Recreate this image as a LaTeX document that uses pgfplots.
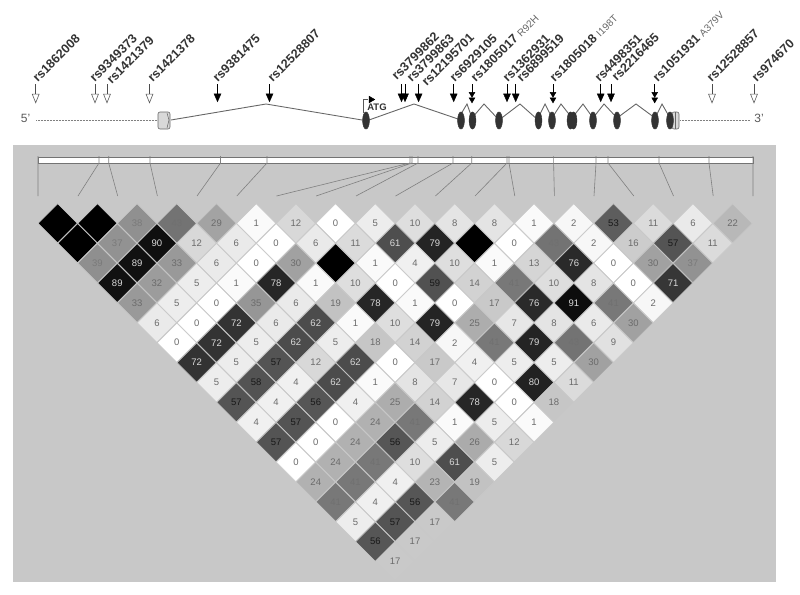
\documentclass[border=0pt]{standalone}
\usepackage{fontspec}
\setmainfont{Liberation Sans}
\usepackage{pgfplots}
\usepackage{pgfplotstable}
\pgfplotsset{compat=1.18}
\definecolor{bg}{gray}{0.785}
\definecolor{ink}{gray}{0.2}
\definecolor{lineg}{gray}{0.45}
\pgfplotstableread[row sep=\\]{
a k v\\
0 0 100\\ 1 0 100\\ 2 0 38\\ 3 0 43\\ 4 0 29\\ 5 0 1\\ 6 0 12\\ 7 0 0\\ 8 0 5\\ 9 0 10\\ 10 0 8\\ 11 0 8\\ 12 0 1\\ 13 0 2\\ 14 0 53\\ 15 0 11\\ 16 0 6\\ 17 0 22\\
0 1 100\\ 1 1 37\\ 2 1 90\\ 3 1 12\\ 4 1 6\\ 5 1 0\\ 6 1 6\\ 7 1 11\\ 8 1 61\\ 9 1 79\\ 10 1 100\\ 11 1 0\\ 12 1 43\\ 13 1 2\\ 14 1 16\\ 15 1 57\\ 16 1 11\\
0 2 39\\ 1 2 89\\ 2 2 33\\ 3 2 6\\ 4 2 0\\ 5 2 30\\ 6 2 100\\ 7 2 1\\ 8 2 4\\ 9 2 10\\ 10 2 1\\ 11 2 13\\ 12 2 76\\ 13 2 0\\ 14 2 30\\ 15 2 37\\
0 3 89\\ 1 3 32\\ 2 3 5\\ 3 3 1\\ 4 3 78\\ 5 3 1\\ 6 3 10\\ 7 3 0\\ 8 3 59\\ 9 3 14\\ 10 3 41\\ 11 3 10\\ 12 3 8\\ 13 3 0\\ 14 3 71\\
0 4 33\\ 1 4 5\\ 2 4 0\\ 3 4 35\\ 4 4 6\\ 5 4 19\\ 6 4 78\\ 7 4 1\\ 8 4 0\\ 9 4 17\\ 10 4 76\\ 11 4 91\\ 12 4 41\\ 13 4 2\\
0 5 6\\ 1 5 0\\ 2 5 72\\ 3 5 6\\ 4 5 62\\ 5 5 1\\ 6 5 10\\ 7 5 79\\ 8 5 25\\ 9 5 7\\ 10 5 8\\ 11 5 6\\ 12 5 30\\
0 6 0\\ 1 6 72\\ 2 6 5\\ 3 6 62\\ 4 6 5\\ 5 6 18\\ 6 6 14\\ 7 6 2\\ 8 6 41\\ 9 6 79\\ 10 6 43\\ 11 6 9\\
0 7 72\\ 1 7 5\\ 2 7 57\\ 3 7 12\\ 4 7 62\\ 5 7 0\\ 6 7 17\\ 7 7 4\\ 8 7 5\\ 9 7 5\\ 10 7 30\\
0 8 5\\ 1 8 58\\ 2 8 4\\ 3 8 62\\ 4 8 1\\ 5 8 8\\ 6 8 7\\ 7 8 0\\ 8 8 80\\ 9 8 11\\
0 9 57\\ 1 9 4\\ 2 9 56\\ 3 9 4\\ 4 9 25\\ 5 9 14\\ 6 9 78\\ 7 9 0\\ 8 9 18\\
0 10 4\\ 1 10 57\\ 2 10 0\\ 3 10 24\\ 4 10 41\\ 5 10 1\\ 6 10 5\\ 7 10 1\\
0 11 57\\ 1 11 0\\ 2 11 24\\ 3 11 56\\ 4 11 5\\ 5 11 26\\ 6 11 12\\
0 12 0\\ 1 12 24\\ 2 12 41\\ 3 12 10\\ 4 12 61\\ 5 12 5\\
0 13 24\\ 1 13 41\\ 2 13 4\\ 3 13 23\\ 4 13 19\\
0 14 41\\ 1 14 4\\ 2 14 56\\ 3 14 41\\
0 15 5\\ 1 15 57\\ 2 15 17\\
0 16 56\\ 1 16 17\\
0 17 17\\
}\ldtable
\pgfplotsset{cellnums/.style={only marks,mark=none,draw=none,forget plot,point meta=explicit,
  nodes near coords,
  every node near coord/.append style={anchor=center,font=\fontsize{9.5}{10}\selectfont,inner sep=0pt,text=#1}}}
\newcommand\cellx{57.7+39.7*\thisrow{a}+19.85*\thisrow{k}}
\newcommand\celly{223.3+19.9*\thisrow{k}}
\begin{document}
\begin{tikzpicture}
\useasboundingbox (0,0) rectangle (800pt,594pt);
\begin{axis}[
  at={(0,0)},anchor=south west,scale only axis,width=800pt,height=594pt,
  xmin=0,xmax=800,ymin=0,ymax=594,y dir=reverse,axis lines=none,clip=false,
  unbounded coords=jump,
  /pgf/number format/assume math mode=true,
  colormap={ld}{gray(0cm)=(1); gray(1cm)=(.98); gray(5cm)=(.93); gray(10cm)=(.87); gray(17cm)=(.79); gray(25cm)=(.68); gray(33cm)=(.6); gray(39cm)=(.56); gray(41cm)=(.47); gray(43cm)=(.45); gray(57cm)=(.33); gray(62cm)=(.3); gray(72cm)=(.2); gray(79cm)=(.14); gray(91cm)=(.05); gray(100cm)=(0)},
  point meta min=0,point meta max=100,
]
% panel
\addplot[draw=none,fill=bg,forget plot] coordinates {(13,145) (776,145) (776,582) (13,582)} --cycle;
% white strip
\addplot[draw=lineg,fill=white,line width=.6pt,forget plot] coordinates {(38,157) (753,157) (753,163) (38,163)} --cycle;
% SNP ticks on strip and connectors
\addplot[black!50,line width=.6pt,forget plot] coordinates {
(38,156)(38,163)(38,196)(nan,nan)
(99,156)(99,163)(78,196)(nan,nan)
(108.7,156)(108.7,163)(117.7,196)(nan,nan)
(150,156)(150,163)(157.4,196)(nan,nan)
(220.5,156)(220.5,163)(197,196)(nan,nan)
(267,156)(267,163)(236.8,196)(nan,nan)
(410,156)(410,163)(276.5,196)(nan,nan)
(412,156)(412,163)(316.2,196)(nan,nan)
(418,156)(418,163)(356,196)(nan,nan)
(453,156)(453,163)(395.6,196)(nan,nan)
(471.7,156)(471.7,163)(435.4,196)(nan,nan)
(507,156)(507,163)(475,196)(nan,nan)
(509,156)(509,163)(514.8,196)(nan,nan)
(553.6,156)(553.6,163)(554.4,196)(nan,nan)
(596,156)(596,163)(594,196)(nan,nan)
(608,156)(608,163)(633.8,196)(nan,nan)
(659,156)(659,163)(673.5,196)(nan,nan)
(709,156)(709,163)(713.2,196)(nan,nan)
(753,156)(753,163)(753,196)
};
% LD cells
\addplot[scatter,only marks,mark=square*,mark size=13.85pt,forget plot,
  scatter/use mapped color={draw=bg,fill=mapped color},
  mark options={rotate=45,line width=.6pt},
  point meta=explicit,
] table[x expr={\cellx},y expr={\celly},meta=v] {\ldtable};
% cell numbers, by shade of the text
\addplot[cellnums=black!58] table[x expr={\cellx},y expr={\thisrow{v}<36 ? \celly : nan},meta=v] {\ldtable};
\addplot[cellnums=black!52] table[x expr={\cellx},y expr={(\thisrow{v}>=36 && \thisrow{v}<41) ? \celly : nan},meta=v] {\ldtable};
\addplot[cellnums=black!56] table[x expr={\cellx},y expr={(\thisrow{v}>=41 && \thisrow{v}<50) ? \celly : nan},meta=v] {\ldtable};
\addplot[cellnums=black!90] table[x expr={\cellx},y expr={(\thisrow{v}>=50 && \thisrow{v}<60) ? \celly : nan},meta=v] {\ldtable};
\addplot[cellnums=black!15] table[x expr={\cellx},y expr={(\thisrow{v}>=60 && \thisrow{v}<100) ? \celly : nan},meta=v] {\ldtable};
% gene model
\addplot[black!50,line width=.5pt,densely dotted,forget plot] coordinates {(36,120.5)(158,120.5)};
\addplot[black!50,line width=.5pt,densely dotted,forget plot] coordinates {(680,120.5)(750,120.5)};
\addplot[black!60,line width=.9pt,forget plot] coordinates {
(171,120)(266,104)(362,120)(nan,nan)
(369,120)(414,104)(458,119)(nan,nan)
(461,114)(467,104)(472,118)(nan,nan)
(472,118)(484,104)(499,120)(nan,nan)
(499,120)(520,104)(538,120)(nan,nan)
(538,118)(545,104)(552,118)(nan,nan)
(552,118)(561,104)(572,118)(nan,nan)
(572,118)(583,104)(593,118)(nan,nan)
(593,118)(604,104)(617,118)(nan,nan)
(617,118)(636,104)(655,118)(nan,nan)
(655,118)(662,104)(670,118)
};
\addplot[draw=black!60,fill=black!15,line width=.6pt,rounded corners=2pt,forget plot] coordinates {(158,112)(170,112)(170,129)(158,129)} --cycle;
\addplot[draw=black!60,line width=.5pt,forget plot] coordinates {(167,113)(169,120)(167,128)};
\addplot[draw=black!60,fill=black!15,line width=.6pt,rounded corners=2pt,forget plot] coordinates {(672,112)(679,112)(679,129)(672,129)} --cycle;
\addplot[draw=black!60,line width=.5pt,forget plot] coordinates {(675,112)(675,129)};
\addplot[only marks,mark=*,mark size=8.6pt,mark options={xscale=.4,fill=ink,draw=ink},forget plot] coordinates {
(366,120.5)(461,120.5)(472.5,120.5)(499,120.5)(538.5,120.5)(552,120.5)(570.5,120.5)(573.5,120.5)(593,120.5)(617,120.5)(655,120.5)(670,120.5)};
% ATG arrow
\addplot[black!65,line width=.8pt,forget plot] coordinates {(363,113)(363,99.5)(368,99.5)};
\addplot[only marks,mark=triangle*,mark size=3.8pt,mark options={rotate=-90,fill=black,draw=black},forget plot] coordinates {(371,99.5)};
\node[font=\bfseries\fontsize{9.5}{10}\selectfont,text=ink,anchor=center] at (axis cs:377,107.5) {ATG};
\node[font=\fontsize{12}{12}\selectfont,text=black!65,anchor=center] at (axis cs:25.5,118) {5'};
\node[font=\fontsize{12}{12}\selectfont,text=black!65,anchor=center] at (axis cs:759,118) {3'};
% SNP arrows: shafts
\addplot[black!70,line width=.7pt,forget plot] coordinates {
(35.7,84)(35.7,94)(nan,nan)(95,84)(95,94)(nan,nan)(107,84)(107,94)(nan,nan)(149.5,84)(149.5,94)(nan,nan)
(712,84)(712,94)(nan,nan)(754,84)(754,94)};
\addplot[black,line width=.7pt,forget plot] coordinates {
(217.5,84)(217.5,94)(nan,nan)(269.5,84)(269.5,94)(nan,nan)(401.5,84)(401.5,94)(nan,nan)(405,84)(405,94)(nan,nan)(418.6,84)(418.6,94)(nan,nan)
(453.7,84)(453.7,94)(nan,nan)(472,84)(472,94)(nan,nan)(507,84)(507,94)(nan,nan)(515.7,84)(515.7,94)(nan,nan)(553,84)(553,94)(nan,nan)
(600.7,84)(600.7,94)(nan,nan)(611,84)(611,94)(nan,nan)(654.7,84)(654.7,94)};
\addplot[only marks,mark=triangle*,mark size=4pt,mark options={yscale=1.45,rotate=180,fill=white,draw=black!65,line width=.6pt},forget plot] coordinates {
(35.7,97)(95,97)(107,97)(149.5,97)(712,97)(754,97)};
\addplot[only marks,mark=triangle*,mark size=4pt,mark options={yscale=1.3,rotate=180,fill=black,draw=black},forget plot] coordinates {
(217.5,96.5)(269.5,96.5)(401.5,96.5)(405,96.5)(418.6,96.5)(453.7,96.5)(507,96.5)(515.7,96.5)(600.7,96.5)(611,96.5)};
\addplot[only marks,mark=triangle*,mark size=3.4pt,mark options={yscale=1,rotate=180,fill=black,draw=black},forget plot] coordinates {
(472,94)(472,99.5)(553,94)(553,99.5)(654.7,94)(654.7,99.5)};
% SNP labels
\tikzset{snp/.style={rotate=45,anchor=south west,inner sep=0pt,xshift=-4.5pt,yshift=-5.8pt,text=ink,font=\bfseries\fontsize{12.6}{13}\selectfont}}
\newcommand\aacode[1]{\textcolor{black!60}{\mdseries\fontsize{10}{11}\selectfont #1}}
\node[snp] at (axis cs:37,76) {rs1862008};
\node[snp] at (axis cs:94,76) {rs9349373};
\node[snp] at (axis cs:111,78) {rs1421379};
\node[snp] at (axis cs:152,76) {rs1421378};
\node[snp] at (axis cs:217,76) {rs9381475};
\node[snp] at (axis cs:272,76) {rs12528807};
\node[snp] at (axis cs:396,74) {rs3799862};
\node[snp] at (axis cs:411,76) {rs3799863};
\node[snp] at (axis cs:426,80) {rs12195701};
\node[snp] at (axis cs:454,76) {rs6929105};
\node[snp] at (axis cs:475,76) {rs1805017 \aacode{R92H}};
\node[snp] at (axis cs:507,76) {rs1362931};
\node[snp] at (axis cs:521,76) {rs6899519};
\node[snp] at (axis cs:554,76) {rs1805018 \aacode{I198T}};
\node[snp] at (axis cs:599,76) {rs4498351};
\node[snp] at (axis cs:616,75) {rs2216465};
\node[snp] at (axis cs:657,76) {rs1051931 \aacode{A379V}};
\node[snp] at (axis cs:711,76) {rs12528857};
\node[snp] at (axis cs:756,76) {rs974670};
\end{axis}
\end{tikzpicture}
\end{document}
